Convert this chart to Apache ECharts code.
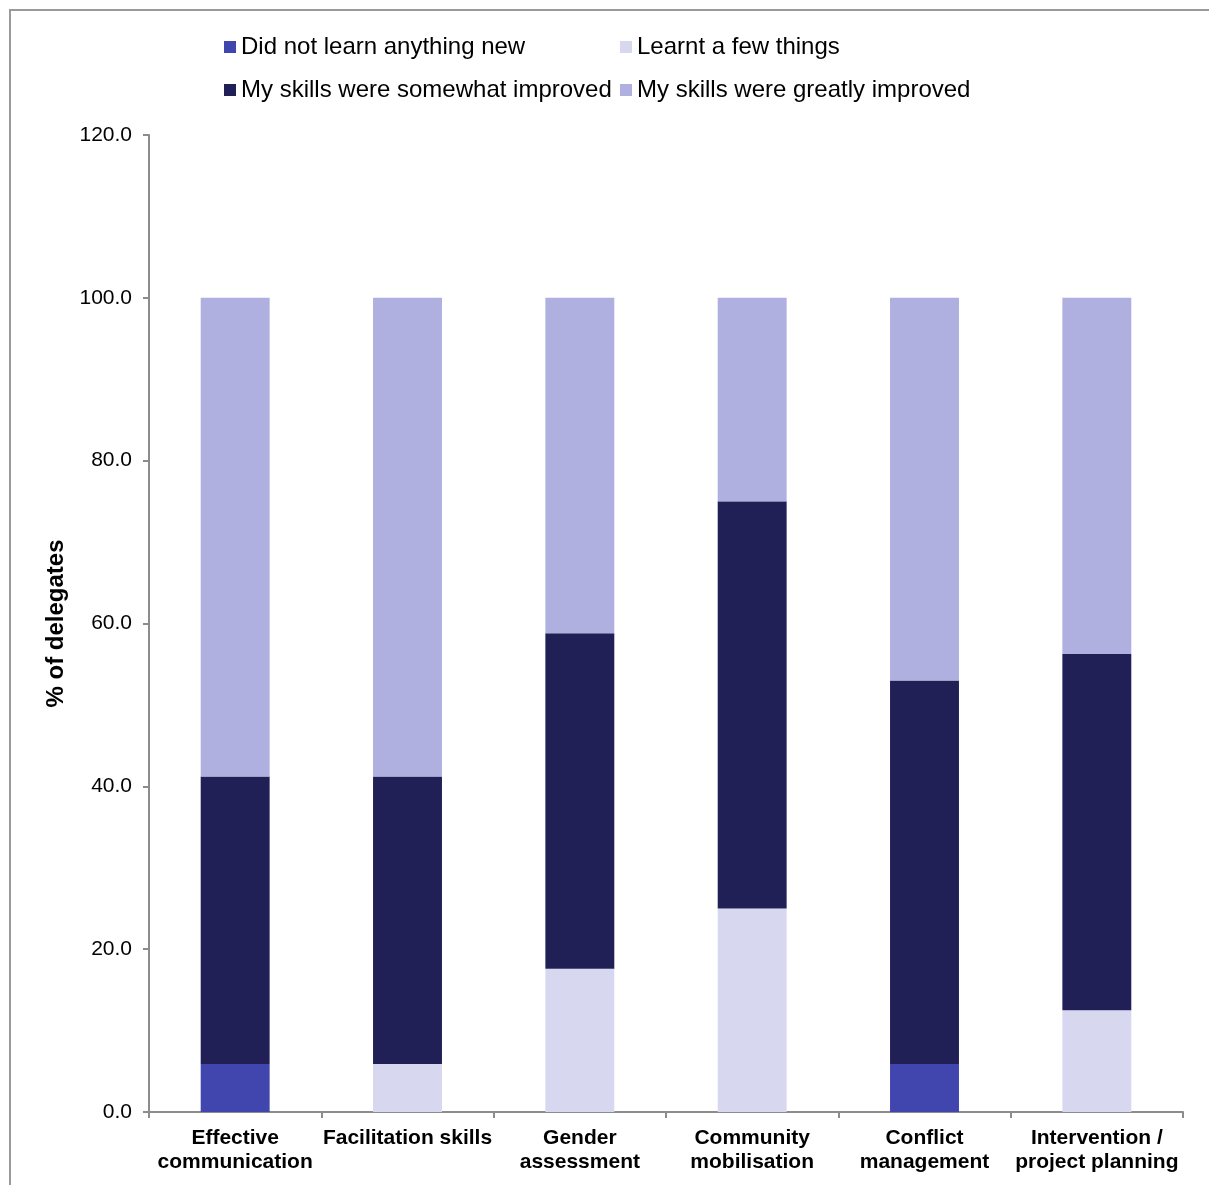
<!DOCTYPE html>
<html>
<head>
<meta charset="utf-8">
<script src="https://cdn.jsdelivr.net/npm/echarts@6/dist/echarts.min.js"></script>
<style>
  html, body { margin: 0; padding: 0; background: #fff; }
  #chart { width: 1209px; height: 1185px; }
</style>
</head>
<body>
<div id="chart"></div>
<script>
// Training topics (x-axis categories)
const categories = [
  'Effective\ncommunication',
  'Facilitation skills',
  'Gender\nassessment',
  'Community\nmobilisation',
  'Conflict\nmanagement',
  'Intervention /\nproject planning'
];

// Share of delegates (%) per response, stacked bottom to top
const didNotLearn      = [5.9,  0,    0,    0,    5.9,  0];
const learntFew        = [0,    5.9,  17.6, 25.0, 0,    12.5];
const somewhatImproved = [35.3, 35.3, 41.2, 50.0, 47.1, 43.75];
const greatlyImproved  = [58.8, 58.8, 41.2, 25.0, 47.0, 43.75];

const yTicks = [0, 20, 40, 60, 80, 100, 120];

const seriesNames = [
  'Did not learn anything new',
  'Learnt a few things',
  'My skills were somewhat improved',
  'My skills were greatly improved'
];
const colors = ['#4145AE', '#D7D8F0', '#202056', '#AFAFE0'];

const chart = echarts.init(document.getElementById('chart'), null, { renderer: 'canvas' });

const font = 'Arial, "Liberation Sans", sans-serif';
const legendText = { fontFamily: font, fontSize: 24, color: '#000' };

function legendAt(name, left, top) {
  return {
    data: [name],
    left: left, top: top,
    orient: 'horizontal',
    icon: 'rect',
    itemWidth: 12, itemHeight: 12,
    itemGap: 0,
    padding: 0,
    textStyle: Object.assign({ padding: [0, 0, 0, 0] }, legendText),
    selectedMode: false
  };
}

const valuesBySeries = [didNotLearn, learntFew, somewhatImproved, greatlyImproved];

chart.setOption({
  animation: false,
  color: colors,
  graphic: [{
    type: 'rect',
    shape: { x: 10, y: 10, width: 1220, height: 1200 },
    style: { fill: 'none', stroke: '#9a9a9a', lineWidth: 2 },
    silent: true
  }],
  legend: [
    legendAt(seriesNames[0], 224, 35),
    legendAt(seriesNames[1], 620, 35),
    legendAt(seriesNames[2], 224, 78),
    legendAt(seriesNames[3], 620, 78)
  ],
  grid: { left: 149, top: 135, right: 26, bottom: 73, containLabel: false },
  xAxis: {
    type: 'category',
    data: categories,
    axisLine: { lineStyle: { color: '#8c8c8c', width: 2 } },
    axisTick: { show: true, length: 6, lineStyle: { color: '#8c8c8c', width: 2 } },
    axisLabel: {
      interval: 0,
      margin: 14,
      fontFamily: font, fontSize: 21, fontWeight: 'bold', color: '#000',
      lineHeight: 24
    }
  },
  yAxis: {
    type: 'value',
    min: yTicks[0],
    max: yTicks[yTicks.length - 1],
    interval: 20,
    name: '% of delegates',
    nameLocation: 'middle',
    nameGap: 80,
    nameTextStyle: { fontFamily: font, fontSize: 24, fontWeight: 'bold', color: '#000' },
    axisLine: { show: true, lineStyle: { color: '#8c8c8c', width: 2 } },
    axisTick: { show: true, length: 6, lineStyle: { color: '#8c8c8c', width: 2 } },
    splitLine: { show: false },
    axisLabel: {
      margin: 17,
      fontFamily: font, fontSize: 21, color: '#000',
      formatter: v => v.toFixed(1)
    }
  },
  series: valuesBySeries.map((vals, i) => ({
    name: seriesNames[i],
    type: 'bar',
    stack: 'total',
    barWidth: '40%',
    itemStyle: { color: colors[i] },
    emphasis: { disabled: true },
    data: vals
  }))
});
</script>
</body>
</html>
